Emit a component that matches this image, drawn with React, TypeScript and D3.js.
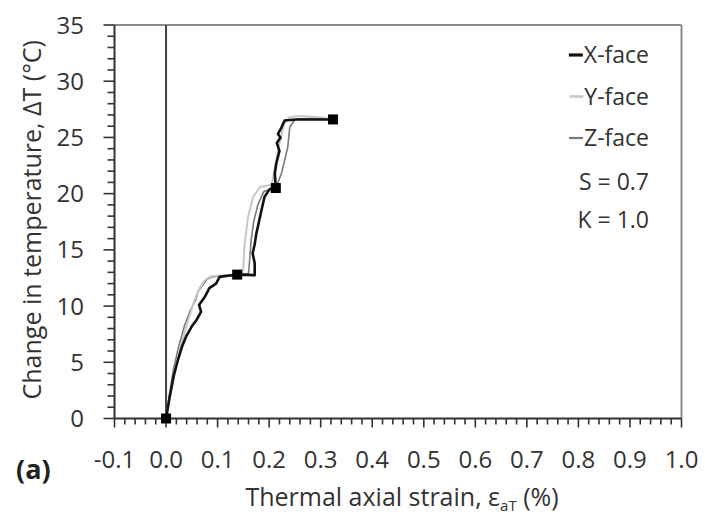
import React from "react";
import * as d3 from "d3";

// [strain %, delta T °C]
const xFace: [number, number][] = [
  [0, 0], [0.007, 1.9], [0.015, 3.8], [0.023, 5.2], [0.031, 6.4], [0.039, 7.3],
  [0.05, 8.2], [0.059, 8.75], [0.068, 9.5], [0.064, 10.1], [0.075, 10.8],
  [0.084, 11.6], [0.097, 12.0], [0.104, 12.6], [0.12, 12.7], [0.14, 12.8],
  [0.172, 12.75], [0.172, 13.8], [0.168, 14.7], [0.172, 15.5], [0.175, 16.4],
  [0.185, 18.5], [0.191, 19.7], [0.201, 20.4], [0.213, 20.5], [0.211, 21.8],
  [0.214, 22.7], [0.22, 23.8], [0.215, 24.5], [0.222, 25.0], [0.217, 25.3],
  [0.224, 25.9], [0.23, 26.5], [0.253, 26.6], [0.29, 26.6], [0.324, 26.6],
];

const yFace: [number, number][] = [
  [0, 0], [0.008, 2.2], [0.0165, 4.0], [0.027, 6.2], [0.039, 8.15], [0.055, 10.5],
  [0.065, 11.6], [0.075, 12.3], [0.085, 12.6], [0.097, 12.7], [0.136, 12.8],
  [0.149, 13.0], [0.15, 13.5], [0.152, 15.3], [0.159, 17.9], [0.169, 19.7],
  [0.182, 20.6], [0.205, 20.8], [0.212, 22.5], [0.22, 24.5], [0.23, 26.3],
  [0.24, 26.8], [0.26, 26.9], [0.3, 26.8], [0.324, 26.6],
];

const zFace: [number, number][] = [
  [0, 0], [0.006, 2], [0.014, 4.3], [0.025, 6.5], [0.036, 8.3], [0.047, 9.6],
  [0.058, 10.6], [0.062, 11.3], [0.07, 11.8], [0.08, 12.4], [0.09, 12.6],
  [0.11, 12.7], [0.14, 12.8], [0.16, 12.9], [0.162, 14.0], [0.165, 15.85],
  [0.17, 17.5], [0.178, 19.0], [0.19, 20.2], [0.213, 20.5], [0.224, 21.8],
  [0.23, 22.95], [0.236, 24.1], [0.24, 25.9], [0.25, 26.6], [0.28, 26.7],
  [0.324, 26.6],
];

const stagePoints: [number, number][] = [
  [0, 0], [0.138, 12.8], [0.213, 20.5], [0.324, 26.6],
];

const xTicks = [-0.1, 0, 0.1, 0.2, 0.3, 0.4, 0.5, 0.6, 0.7, 0.8, 0.9, 1.0];
const yTicks = [0, 5, 10, 15, 20, 25, 30, 35];

const series = [
  { name: "X-face", data: xFace, color: "#111", width: 2.6 },
  { name: "Y-face", data: yFace, color: "#c8c8c8", width: 2 },
  { name: "Z-face", data: zFace, color: "#7a7a7a", width: 1.6 },
];

const notes = ["S = 0.7", "K = 1.0"];

const font = "'Open Sans', sans-serif";
const legendSize = 23;

function textWidth(txt: string, size: number) {
  const ctx = document.createElement("canvas").getContext("2d");
  if (!ctx) return txt.length * size * 0.5;
  ctx.font = `${size}px 'Open Sans'`;
  return ctx.measureText(txt).width;
}

export default function App() {
  const W = 705, H = 515;
  const left = 114.5, right = 681.5, top = 25, bottom = 418.5;

  const x = d3.scaleLinear().domain([-0.1, 1.0]).range([left, right]);
  const y = d3.scaleLinear().domain([0, 35]).range([bottom, top]);

  const line = d3.line<[number, number]>()
    .x((d) => x(d[0]))
    .y((d) => y(d[1]));

  const xMinor = d3.range(-0.1, 1.0001, 0.02);
  const yMinor = d3.range(0, 35.001, 1);

  return (
    <svg width={W} height={H} style={{ position: "absolute", left: 0, top: 0, background: "#fff" }}>
      {/* frame */}
      <line x1={left} x2={right} y1={top} y2={top} stroke="#8a8a8a" strokeWidth={2} />
      <line x1={right} x2={right} y1={top} y2={bottom} stroke="#8a8a8a" strokeWidth={2} />

      {/* zero strain line */}
      <line x1={x(0)} x2={x(0)} y1={top} y2={bottom} stroke="#444" strokeWidth={2} />

      {/* y axis */}
      <line x1={left} x2={left} y1={top} y2={bottom} stroke="#333" strokeWidth={2} />
      {yMinor.map((v) => (
        <line key={"ym" + v} x1={left - (v % 5 === 0 ? 11 : 7)} x2={left} y1={y(v)} y2={y(v)} stroke="#333" strokeWidth={1.6} />
      ))}
      {yTicks.map((v) => (
        <text key={"yt" + v} x={84} y={y(v)} dy="0.36em" textAnchor="end" fontFamily={font} fontSize={24} fill="#333">
          {v}
        </text>
      ))}

      {/* x axis */}
      <line x1={left} x2={right} y1={bottom} y2={bottom} stroke="#333" strokeWidth={2} />
      {xMinor.map((v, i) => (
        <line key={"xm" + i} x1={x(v)} x2={x(v)} y1={bottom} y2={bottom + (i % 5 === 0 ? 9 : 6)} stroke="#333" strokeWidth={1.6} />
      ))}
      {xTicks.map((v) => (
        <text key={"xt" + v} x={x(v)} y={468} textAnchor="middle" fontFamily={font} fontSize={24} fill="#333">
          {v.toFixed(1)}
        </text>
      ))}

      {/* curves */}
      {series.slice().reverse().map((s) => (
        <path key={s.name} d={line(s.data) ?? ""} fill="none" stroke={s.color} strokeWidth={s.width} strokeLinejoin="round" />
      ))}
      {stagePoints.map((p, i) => (
        <rect key={"sp" + i} x={x(p[0]) - 5} y={y(p[1]) - 5} width={10} height={10} fill="#000" />
      ))}

      {/* legend */}
      {series.map((s, i) => {
        const tw = textWidth(s.name, legendSize);
        const tx = 649 - tw;
        return (
          <g key={"lg" + s.name} transform={`translate(0,${55 + i * 41.5})`}>
            <line x1={tx - 15} x2={tx - 1} y1={0} y2={0} stroke={s.color} strokeWidth={s.width + 0.6} />
            <text x={649} y={0} dy="0.36em" textAnchor="end" fontFamily={font} fontSize={legendSize} fill="#333">
              {s.name}
            </text>
          </g>
        );
      })}
      {notes.map((n, i) => (
        <text key={n} x={649} y={182 + i * 38} dy="0.36em" textAnchor="end" fontFamily={font} fontSize={legendSize} fill="#333">
          {n}
        </text>
      ))}

      {/* titles */}
      <text transform={`translate(41,${(top + bottom) / 2 - 2}) rotate(-90)`} textAnchor="middle" fontFamily={font} fontSize={25} fill="#333">
        Change in temperature, ΔT (°C)
      </text>
      <text x={402} y={506} textAnchor="middle" fontFamily={font} fontSize={25} fill="#333">
        Thermal axial strain, ε
        <tspan fontSize={15} dy={5}>aT</tspan>
        <tspan dy={-5}> (%)</tspan>
      </text>
      <text x={16} y={479} fontFamily={font} fontSize={27} fontWeight="bold" fill="#222">
        (a)
      </text>
    </svg>
  );
}
